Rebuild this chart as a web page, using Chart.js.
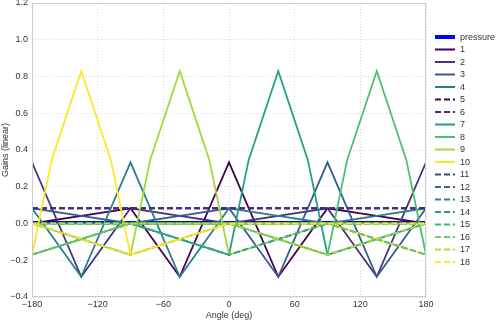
<!DOCTYPE html>
<html>
<head>
<meta charset="utf-8">
<title>Gains</title>
<script src="https://cdn.jsdelivr.net/npm/chart.js@4/dist/chart.umd.min.js"></script>
<style>
    html, body { margin: 0; padding: 0; background: #ffffff; }
</style>
</head>
<body>
<canvas id="gainChart" width="498" height="321"></canvas>
<script>
// Angles (deg) where gains are sampled
const angles = [-180, -135, -90, -45, 0, 45, 90, 135, 180]
const angles7 = [-180, -135, -90, -45, 0, 18, 45, 72, 90, 135, 180]
const angles8 = [-180, -135, -90, -45, 0, 45, 90, 108, 135, 162, 180]
const angles9 = [-180, -135, -90, -72, -45, -18, 0, 45, 90, 135, 180]
const angles10 = [-180, -162, -135, -108, -90, -45, 0, 45, 90, 135, 180]

// Gains
const pressure = [0.005, 0.005, 0.005, 0.005, 0.005, 0.005, 0.005, 0.005, 0.005]
const gain1 = [0.0, 0.042, 0.083, -0.29, 0.333, -0.29, 0.083, 0.042, 0.0]
const gain2 = [0.333, -0.29, 0.083, 0.042, 0.0, 0.042, 0.083, -0.29, 0.333]
const gain3 = [0.083, 0.042, 0.0, 0.042, 0.083, -0.29, 0.333, -0.29, 0.083]
const gain4 = [0.083, -0.29, 0.333, -0.29, 0.083, 0.042, 0.0, 0.042, 0.083]
const gain5 = [0.083, 0.083, 0.083, 0.083, 0.083, 0.083, 0.083, 0.083, 0.083]
const gain6 = [0.083, 0.083, 0.083, 0.083, 0.083, 0.083, 0.083, 0.083, 0.083]
const gain7 = [0.0, 0.0, 0.0, -0.085, -0.17, 0.346, 0.83, 0.346, -0.17, -0.085, 0.0]
const gain8 = [-0.17, -0.085, 0.0, 0.0, 0.0, -0.085, -0.17, 0.346, 0.83, 0.346, -0.17]
const gain9 = [0.0, -0.085, -0.17, 0.346, 0.83, 0.346, -0.17, -0.085, 0.0, 0.0, 0.0]
const gain10 = [-0.17, 0.346, 0.83, 0.346, -0.17, -0.085, 0.0, 0.0, 0.0, -0.085, -0.17]
const gain11 = [0.0, 0.0, 0.0, -0.085, -0.17, -0.085, 0.0, 0.0, 0.0]
const gain12 = [-0.17, -0.085, 0.0, 0.0, 0.0, 0.0, 0.0, -0.085, -0.17]
const gain13 = [0.0, 0.0, 0.0, 0.0, 0.0, -0.085, -0.17, -0.085, 0.0]
const gain14 = [0.0, -0.085, -0.17, -0.085, 0.0, 0.0, 0.0, 0.0, 0.0]
const gain15 = [0.0, 0.0, 0.0, -0.085, -0.17, -0.085, 0.0, 0.0, 0.0]
const gain16 = [-0.17, -0.085, 0.0, 0.0, 0.0, 0.0, 0.0, -0.085, -0.17]
const gain17 = [0.0, 0.0, 0.0, 0.0, 0.0, -0.085, -0.17, -0.085, 0.0]
const gain18 = [0.0, -0.085, -0.17, -0.085, 0.0, 0.0, 0.0, 0.0, 0.0]

const seriesLabels = ['pressure', '1', '2', '3', '4', '5', '6', '7', '8', '9',
    '10', '11', '12', '13', '14', '15', '16', '17', '18']
const seriesAngles = [angles, angles, angles, angles, angles, angles, angles,
    angles7, angles8, angles9, angles10, angles, angles, angles, angles,
    angles, angles, angles, angles]
const seriesGains = [pressure, gain1, gain2, gain3, gain4, gain5, gain6, gain7, gain8,
    gain9, gain10, gain11, gain12, gain13, gain14, gain15, gain16, gain17, gain18]

// Styles: solid lines use viridis over 8, dashed over 10
const seriesColors = ['#0000ff',
    '#440154', '#46327e', '#365c8d', '#277f8e',
    '#440154', '#482878',
    '#1fa187', '#4ac16d', '#a0da39', '#fde725',
    '#3e4989', '#31688e', '#26828e', '#1f9e89', '#35b779', '#6ece58', '#b5de2b', '#fde725']
const seriesDashed = [false, false, false, false, false, true, true, false, false, false, false,
    true, true, true, true, true, true, true, true]

const fontFamily = "'Liberation Sans', Arial, sans-serif"
const textColor = '#333333'

const minus = v => String(v).replace('-', '\u2212')

// Datasets Block
const datasets = seriesLabels.map((label, i) => ({
    label: label,
    data: seriesAngles[i].map((a, j) => ({x: a, y: seriesGains[i][j]})),
    borderColor: seriesColors[i],
    backgroundColor: seriesColors[i],
    borderWidth: i === 0 ? 3 : 1.8,
    borderDash: seriesDashed[i] ? [6, 3] : [],
    pointRadius: 0,
    tension: 0,
    fill: false,
    order: -i
}))

// Frame round the plot area + legend on the right
const framePlugin = {
    id: 'frame',
    afterDatasetsDraw(chart) {
        const {ctx, chartArea} = chart
        ctx.save()
        ctx.strokeStyle = '#cccccc'
        ctx.lineWidth = 1
        ctx.strokeRect(chartArea.left + 0.5, chartArea.top + 0.5,
            chartArea.right - chartArea.left - 1, chartArea.bottom - chartArea.top - 1)
        ctx.restore()
    }
}

const legendPlugin = {
    id: 'sideLegend',
    afterDraw(chart) {
        const ctx = chart.ctx
        ctx.save()
        ctx.font = '9px ' + fontFamily
        ctx.textBaseline = 'middle'
        ctx.textAlign = 'left'
        chart.data.datasets.forEach((ds, i) => {
            const y = 37 + i * 12.5
            ctx.beginPath()
            ctx.setLineDash(ds.borderDash)
            ctx.strokeStyle = ds.borderColor
            ctx.lineWidth = i === 0 ? 4 : 2
            ctx.moveTo(435, y)
            ctx.lineTo(455, y)
            ctx.stroke()
            ctx.setLineDash([])
            ctx.fillStyle = textColor
            ctx.fillText(ds.label, 460, y + 0.5)
        })
        ctx.restore()
    }
}

// Config Block
const config = {
    type: 'line',
    data: { datasets },
    plugins: [framePlugin, legendPlugin],
    options: {
        responsive: false,
        animation: false,
        devicePixelRatio: 1,
        layout: { padding: { top: 3, right: 72, left: 0, bottom: 0 } },
        plugins: {
            legend: { display: false },
            tooltip: { enabled: false }
        },
        scales: {
            x: {
                type: 'linear',
                min: -180,
                max: 180,
                afterFit: scale => {
                    scale.height = 24
                    scale.paddingLeft = 0
                    scale.paddingRight = 0
                },
                ticks: {
                    stepSize: 60,
                    padding: 2,
                    maxRotation: 0,
                    color: textColor,
                    font: { family: fontFamily, size: 9 },
                    callback: v => minus(v)
                },
                grid: { color: '#cccccc', lineWidth: 0.8, drawTicks: false },
                border: { display: false, dash: [1, 2] },
                title: {
                    display: true,
                    text: 'Angle (deg)',
                    color: textColor,
                    font: { family: fontFamily, size: 9 },
                    padding: { top: 0, bottom: 0 }
                }
            },
            y: {
                min: -0.4,
                max: 1.2,
                afterFit: scale => {
                    scale.width = 32
                    scale.paddingTop = 0
                    scale.paddingBottom = 0
                },
                ticks: {
                    stepSize: 0.2,
                    padding: 4,
                    color: textColor,
                    font: { family: fontFamily, size: 9 },
                    callback: v => minus((Math.round(v * 10) / 10).toFixed(1))
                },
                grid: { color: '#cccccc', lineWidth: 0.8, drawTicks: false },
                border: { display: false, dash: [1, 2] },
                title: {
                    display: true,
                    text: 'Gains (linear)',
                    color: textColor,
                    font: { family: fontFamily, size: 9 },
                    padding: { top: 0, bottom: 0 }
                }
            }
        }
    }
}

// Render Block
const gainChart = new Chart(document.getElementById('gainChart'), config)
</script>
</body>
</html>
